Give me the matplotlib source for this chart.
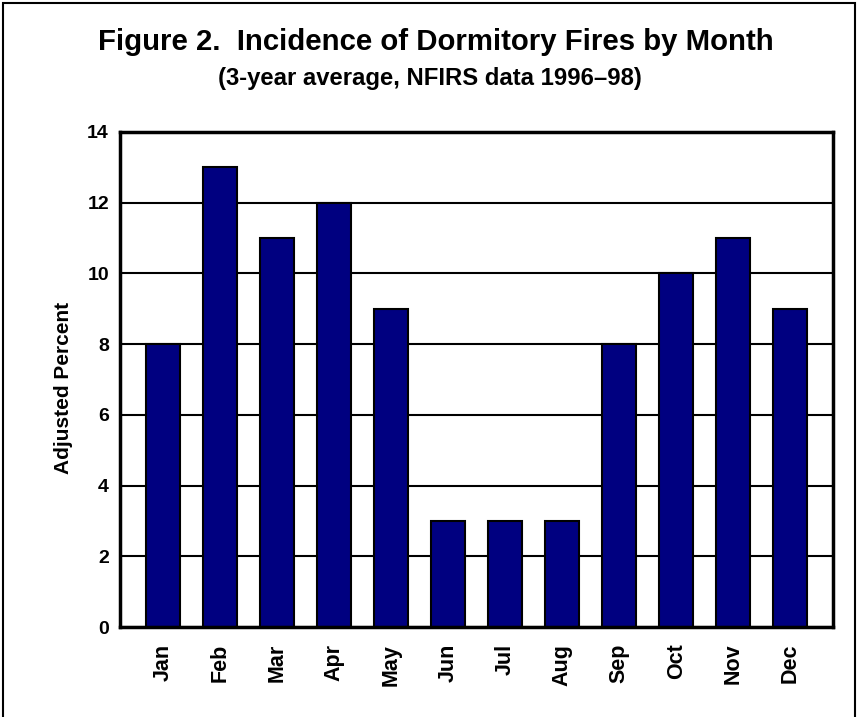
import matplotlib.pyplot as plt
from matplotlib.patches import Rectangle

months = ["Jan", "Feb", "Mar", "Apr", "May", "Jun",
          "Jul", "Aug", "Sep", "Oct", "Nov", "Dec"]
percent = [8, 13, 11, 12, 9, 3, 3, 3, 8, 10, 11, 9]
yticks = [0, 2, 4, 6, 8, 10, 12, 14]

plt.rcParams['font.family'] = ['Liberation Sans', 'DejaVu Sans']
plt.rcParams['font.weight'] = 'bold'

fig = plt.figure(figsize=(8.6, 7.17), dpi=100)
ax = fig.add_axes([120 / 860, 1 - 627 / 717, 713 / 860, 495 / 717])

# outer frame (bottom edge runs past the image)
fig.patches.append(Rectangle((3 / 860, -0.05), 852 / 860, 1 - 3 / 717 + 0.05,
                             transform=fig.transFigure, fill=False,
                             edgecolor='black', linewidth=1.5))

x = range(len(months))
ax.set_axisbelow(True)
ax.yaxis.grid(True, color='black', linewidth=1.5)
ax.bar(x, percent, width=0.6, color='#000080', edgecolor='black', linewidth=1.5)

ax.set_xlim(-0.75, 11.75)
ax.set_ylim(0, 14)
ax.set_yticks(yticks)
ax.set_xticks(list(x))
ax.set_xticklabels(months, rotation=90, fontsize=15.5, fontweight='bold')
ax.tick_params(axis='y', length=0, labelsize=14, pad=8)
ax.tick_params(axis='x', length=0, pad=12)
for lab in ax.get_yticklabels():
    lab.set_fontweight('bold')
for sp in ax.spines.values():
    sp.set_linewidth(2.5)

ax.set_ylabel("Adjusted Percent", fontsize=15, fontweight='bold')
ax.yaxis.set_label_coords(-47 / 713, 0.483)

fig.text(436 / 860, 1 - 50 / 717, "Figure 2.  Incidence of Dormitory Fires by Month",
         ha='center', va='baseline', fontsize=21.2, fontweight='bold')
fig.text(430 / 860, 1 - 85 / 717, "(3-year average, NFIRS data 1996\u201398)",
         ha='center', va='baseline', fontsize=17.2, fontweight='bold')

fig.savefig("out.png", dpi=100)
